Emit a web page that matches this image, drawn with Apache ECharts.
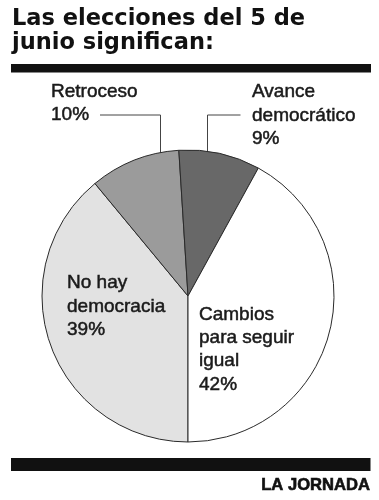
<!DOCTYPE html>
<html>
<head>
<meta charset="utf-8">
<style>
  html, body { margin: 0; padding: 0; background: #ffffff; }
  #chart { width: 379px; height: 500px; }
</style>
<script src="https://cdn.jsdelivr.net/npm/echarts@6/dist/echarts.min.js"></script>
</head>
<body>
<div id="chart"></div>
<script>
// ---- data ----
var categories = ["No hay\ndemocracia", "Retroceso", "Avance\ndemocrático", "Cambios\npara seguir\nigual"];
var values = [39, 10, 9, 42];
var sliceColors = ["#e2e2e2", "#9b9b9b", "#686868", "#ffffff"];
var titleText = "Las elecciones del 5 de\njunio significan:";
var sourceText = "LA JORNADA";

// ---- label placement (layout only) ----
var labelPos = [
  { x: 67, y: 271.5 },
  { x: 51, y: 80, line: [[100, 115], [160.5, 115], [160.5, 170]] },
  { x: 252, y: 80.5, line: [[240.5, 115], [207.5, 115], [207.5, 170]] },
  { x: 199, y: 303 }
];

var chart = echarts.init(document.getElementById('chart'), null, { renderer: 'canvas' });

var data = categories.map(function (c, i) {
  var item = { name: c, value: values[i], itemStyle: { color: sliceColors[i] } };
  if (!labelPos[i].line) item.labelLine = { show: false };
  return item;
});

chart.setOption({
  backgroundColor: '#ffffff',
  animation: false,
  graphic: [
    {
      type: 'text', left: 12, top: 7,
      style: {
        text: titleText,
        font: 'bold 22.5px "DejaVu Sans"',
        lineHeight: 24.3,
        fill: '#111111'
      }
    },
    { type: 'rect', shape: { x: 11, y: 64, width: 360, height: 8.5 }, style: { fill: '#111111' } },
    { type: 'rect', shape: { x: 11, y: 458, width: 359.5, height: 13 }, style: { fill: '#111111' } },
    {
      type: 'text', style: {
        text: sourceText, x: 370, y: 485.5, align: 'right', verticalAlign: 'middle',
        font: 'bold 16.6px "Liberation Sans", Arial', fill: '#111111',
        stroke: '#111111', lineWidth: 0.6
      }
    }
  ],
  series: [{
    type: 'pie',
    center: [188, 296],
    radius: 146,
    startAngle: 270,
    clockwise: true,
    avoidLabelOverlap: false,
    silent: true,
    itemStyle: { borderColor: '#2a2a2a', borderWidth: 1 },
    label: {
      show: true,
      position: 'outside',
      formatter: function (p) { return p.name + '\n' + p.value + '%'; },
      fontFamily: '"Liberation Sans", Arial',
      fontSize: 19,
      lineHeight: 23.3,
      color: '#1a1a1a',
      textBorderColor: '#1a1a1a',
      textBorderWidth: 0.5,
      align: 'left'
    },
    labelLine: { show: true, lineStyle: { color: '#444444', width: 1 } },
    labelLayout: function (p) {
      var L = labelPos[p.dataIndex];
      var r = { x: L.x, y: L.y, align: 'left', verticalAlign: 'top' };
      if (L.line) r.labelLinePoints = L.line;
      return r;
    },
    data: data
  }]
});
</script>
</body>
</html>
